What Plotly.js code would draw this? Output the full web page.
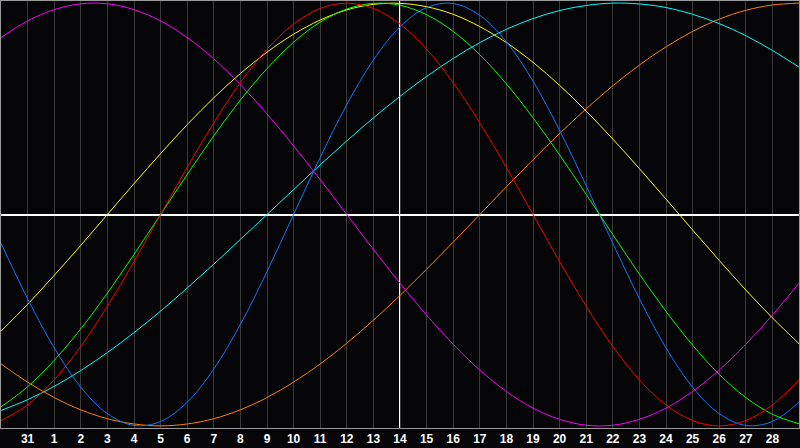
<!DOCTYPE html>
<html>
<head>
<meta charset="utf-8">
<script src="https://cdn.plot.ly/plotly-3.0.1.min.js"></script>
<style>
  html, body { margin: 0; padding: 0; background: #050508; }
  #chart { width: 800px; height: 448px; }
</style>
</head>
<body>
<div id="chart"></div>
<script>
// day slots across the chart, 0 = left edge, 15 = today
var days = [0,1,2,3,4,5,6,7,8,9,10,11,12,13,14,15,16,17,18,19,20,21,22,23,24,25,26,27,28,29,30];
var tickDays = [1,2,3,4,5,6,7,8,9,10,11,12,13,14,15,16,17,18,19,20,21,22,23,24,25,26,27,28,29];
var tickLabels = ['31','1','2','3','4','5','6','7','8','9','10','11','12','13','14','15','16','17','18','19','20','21','22','23','24','25','26','27','28'];

// values, -1 .. 1
var physical = [-0.136,-0.398,-0.631,-0.817,-0.942,-0.998,-0.979,-0.888,-0.731,-0.520,-0.270,0,0.270,0.520,0.731,0.888,0.979,0.998,0.942,0.817,0.631,0.398,0.136,-0.136,-0.398,-0.631,-0.817,-0.942,-0.998,-0.979,-0.888];
var emotional = [-0.975,-0.901,-0.782,-0.624,-0.434,-0.223,0,0.223,0.434,0.624,0.782,0.901,0.975,1,0.975,0.901,0.782,0.624,0.434,0.223,0,-0.223,-0.434,-0.624,-0.782,-0.901,-0.975,-1,-0.975,-0.901,-0.782];
var intellectual = [-0.910,-0.815,-0.690,-0.541,-0.372,-0.189,0,0.189,0.372,0.541,0.690,0.815,0.910,0.972,0.999,0.990,0.945,0.866,0.756,0.618,0.458,0.282,0.095,-0.095,-0.282,-0.458,-0.618,-0.756,-0.866,-0.945,-0.990];
var intuitive = [0.837,0.916,0.969,0.997,0.997,0.969,0.916,0.837,0.736,0.614,0.476,0.325,0.165,0,-0.165,-0.325,-0.476,-0.614,-0.736,-0.837,-0.916,-0.969,-0.997,-0.997,-0.969,-0.916,-0.837,-0.736,-0.614,-0.476,-0.325];
var aesthetic = [-0.552,-0.425,-0.288,-0.146,0,0.146,0.288,0.425,0.552,0.667,0.768,0.853,0.920,0.968,0.994,0.999,0.983,0.947,0.889,0.813,0.720,0.611,0.489,0.357,0.217,0.073,-0.073,-0.217,-0.357,-0.489,-0.611];
var awareness = [-0.707,-0.793,-0.866,-0.924,-0.966,-0.991,-1,-0.991,-0.966,-0.924,-0.866,-0.793,-0.707,-0.609,-0.5,-0.383,-0.259,-0.131,0,0.131,0.259,0.383,0.5,0.609,0.707,0.793,0.866,0.924,0.966,0.991,1];
var spiritual = [-0.927,-0.876,-0.813,-0.738,-0.653,-0.559,-0.457,-0.348,-0.235,-0.118,0,0.118,0.235,0.348,0.457,0.559,0.653,0.738,0.813,0.876,0.927,0.965,0.989,1.0,0.996,0.979,0.947,0.903,0.846,0.776,0.697];

function curve(name, ys, col) {
  return {
    x: days,
    y: ys,
    name: name,
    type: 'scatter',
    mode: 'lines',
    line: { color: col, width: 1, shape: 'spline', smoothing: 1 },
    hoverinfo: 'skip'
  };
}

var data = [
  curve('awareness', awareness, '#ff8000'),
  curve('spiritual', spiritual, '#00ffff'),
  curve('intuitive', intuitive, '#ff00ff'),
  curve('aesthetic', aesthetic, '#ffff00'),
  curve('physical', physical, '#0a78ff'),
  curve('intellectual', intellectual, '#00ff00'),
  curve('emotional', emotional, '#ff0000')
];

var layout = {
  width: 800,
  height: 448,
  margin: { l: 1, r: 1, t: 1, b: 20, pad: 0 },
  paper_bgcolor: '#050508',
  plot_bgcolor: '#050508',
  showlegend: false,
  xaxis: {
    range: [0, 30],
    tickmode: 'array',
    tickvals: tickDays,
    ticktext: tickLabels,
    ticks: '',
    showgrid: true,
    gridcolor: '#3a3a3a',
    gridwidth: 1,
    zeroline: false,
    showline: true,
    linecolor: '#9a9a9a',
    linewidth: 1,
    mirror: true,
    tickfont: { family: 'Liberation Sans, Arial, sans-serif', size: 12, color: '#ffffff', weight: 'bold' },
    fixedrange: true
  },
  yaxis: {
    range: [-1.01, 1.01],
    showticklabels: false,
    ticks: '',
    showgrid: false,
    zeroline: true,
    zerolinecolor: '#ffffff',
    zerolinewidth: 2,
    showline: true,
    linecolor: '#9a9a9a',
    linewidth: 1,
    mirror: true,
    fixedrange: true
  },
  shapes: [{
    type: 'line', xref: 'x', yref: 'paper',
    x0: 15, x1: 15, y0: 0, y1: 1,
    line: { color: '#ffffff', width: 2 },
    layer: 'below'
  }]
};

Plotly.newPlot('chart', data, layout, { displayModeBar: false, staticPlot: true });
</script>
</body>
</html>
